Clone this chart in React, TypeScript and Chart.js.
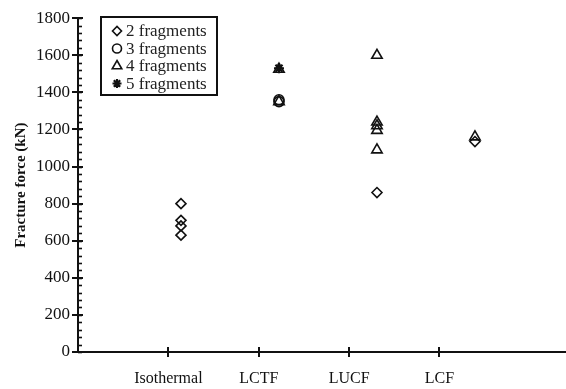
import React, { useEffect, useRef } from "react";
import { Chart, registerables } from "chart.js";
import { drawPoint } from "chart.js/helpers";

Chart.register(...registerables);

// Test groups along the horizontal axis
const categories = ["Isothermal", "LCTF", "LUCF", "LCF"];

// Fracture force (kN) by group: [group index, force]
const twoFragments: [number, number][] = [
  [1, 800], [1, 710], [1, 680], [1, 630],
  [3, 860],
  [4, 1135],
];
const threeFragments: [number, number][] = [
  [2, 1360], [2, 1350],
];
const fourFragments: [number, number][] = [
  [2, 1525], [2, 1350],
  [3, 1600], [3, 1240], [3, 1220], [3, 1195], [3, 1090],
  [4, 1160],
];
const fiveFragments: [number, number][] = [
  [2, 1530],
];

const yTicks = [0, 200, 400, 600, 800, 1000, 1200, 1400, 1600, 1800];

const SERIF = "'Liberation Serif', 'Times New Roman', serif";
const INK = "#111";

const toPoints = (arr: [number, number][]) => arr.map(([x, y]) => ({ x, y }));

// Axis tick marks (major crossing, minor inside) and a framed legend
const decorPlugin = {
  id: "decor",
  afterDraw(chart: any) {
    const ctx = chart.ctx as CanvasRenderingContext2D;
    const ys = chart.scales.y;
    const xs = chart.scales.x;
    const left = chart.chartArea.left;
    const bottom = chart.chartArea.bottom;
    ctx.save();
    ctx.strokeStyle = INK;
    ctx.lineWidth = 1.6;
    // minor ticks on the y axis every 40 kN
    for (let v = 0; v <= 1800; v += 40) {
      const py = Math.round(ys.getPixelForValue(v)) + 0.5;
      ctx.beginPath();
      ctx.moveTo(left, py);
      ctx.lineTo(left + 4, py);
      ctx.stroke();
    }
    // major ticks on the y axis
    ctx.lineWidth = 2;
    for (const v of yTicks) {
      const py = Math.round(ys.getPixelForValue(v));
      ctx.beginPath();
      ctx.moveTo(left - 6, py);
      ctx.lineTo(left + 5, py);
      ctx.stroke();
    }
    // category ticks on the x axis
    categories.forEach((_, i) => {
      const px = Math.round(xs.getPixelForValue(i + 1));
      ctx.beginPath();
      ctx.moveTo(px, bottom - 5);
      ctx.lineTo(px, bottom + 5);
      ctx.stroke();
    });

    // legend box
    const lx = 101, ly = 17, lw = 116, lh = 78;
    ctx.lineWidth = 2;
    ctx.strokeRect(lx, ly, lw, lh);
    ctx.font = `17px ${SERIF}`;
    ctx.textBaseline = "middle";
    ctx.textAlign = "left";
    chart.data.datasets.forEach((ds: any, i: number) => {
      const cy = ly + 14 + i * 17.5;
      ctx.strokeStyle = INK;
      ctx.fillStyle = "rgba(0,0,0,0)";
      ctx.lineWidth = ds.pointBorderWidth;
      drawPoint(
        ctx,
        { pointStyle: ds.pointStyle, radius: ds.pointRadius - 0.5, borderWidth: ds.pointBorderWidth, rotation: 0 } as any,
        117,
        cy
      );
      ctx.fillStyle = "#222";
      ctx.fillText(ds.label, 126, cy + 1);
    });
    ctx.restore();
  },
};

export default function App() {
  const ref = useRef<HTMLCanvasElement>(null);

  useEffect(() => {
    document.body.style.margin = "0";
    const canvas = ref.current;
    if (!canvas) return;

    const marker = (label: string, data: [number, number][], style: string, radius: number, bw: number) => ({
      label,
      data: toPoints(data),
      xAxisID: "xp",
      pointStyle: style,
      pointRadius: radius,
      pointBorderWidth: bw,
      pointBorderColor: INK,
      pointBackgroundColor: "rgba(0,0,0,0)",
      borderColor: INK,
      backgroundColor: "rgba(0,0,0,0)",
      showLine: false,
      clip: false,
    });

    const chart = new Chart(canvas, {
      type: "scatter",
      data: {
        datasets: [
          marker("2 fragments", twoFragments, "rectRot", 5, 1.6),
          marker("3 fragments", threeFragments, "circle", 5, 1.6),
          marker("4 fragments", fourFragments, "triangle", 6, 1.6),
          marker("5 fragments", fiveFragments, "star", 5, 2.2),
        ] as any,
      },
      options: {
        animation: false,
        responsive: false,
        maintainAspectRatio: false,
        layout: { autoPadding: false, padding: { top: 17, right: 0, left: 0, bottom: 0 } },
        plugins: {
          legend: { display: false },
          tooltip: { enabled: false },
          title: { display: false },
        },
        scales: {
          // visible category axis
          x: {
            type: "linear",
            min: 0,
            max: 5.4,
            afterBuildTicks: (scale: any) => {
              scale.ticks = categories.map((_, i) => ({ value: i + 1 }));
            },
            afterFit: (scale: any) => {
              scale.height = 37;
              scale.paddingLeft = 0;
              scale.paddingRight = 0;
            },
            grid: { display: false, drawTicks: false },
            border: { display: true, color: INK, width: 2 },
            ticks: {
              color: INK,
              font: { family: SERIF, size: 16 },
              padding: 17,
              maxRotation: 0,
              autoSkip: false,
              callback: (v: any) => categories[Number(v) - 1] ?? "",
            },
          },
          // placement axis for the markers
          xp: {
            type: "linear",
            display: false,
            min: -0.051,
            max: 4.929,
          },
          y: {
            type: "linear",
            min: 0,
            max: 1800,
            afterBuildTicks: (scale: any) => {
              scale.ticks = yTicks.map((v) => ({ value: v }));
            },
            afterFit: (scale: any) => {
              scale.width = 78;
            },
            grid: { display: false, drawTicks: false },
            border: { display: true, color: INK, width: 2 },
            ticks: {
              color: INK,
              font: { family: SERIF, size: 17 },
              padding: 8,
              callback: (v: any) => String(v),
            },
            title: {
              display: true,
              text: "Fracture force (kN)",
              color: INK,
              font: { family: SERIF, size: 15, weight: "bold" },
              padding: { top: 12, bottom: 0 },
            },
          },
        },
      },
      plugins: [decorPlugin],
    } as any);

    return () => chart.destroy();
  }, []);

  return (
    <div style={{ width: 566, height: 389, background: "#fff" }}>
      <canvas ref={ref} width={566} height={389} style={{ display: "block" }} />
    </div>
  );
}
